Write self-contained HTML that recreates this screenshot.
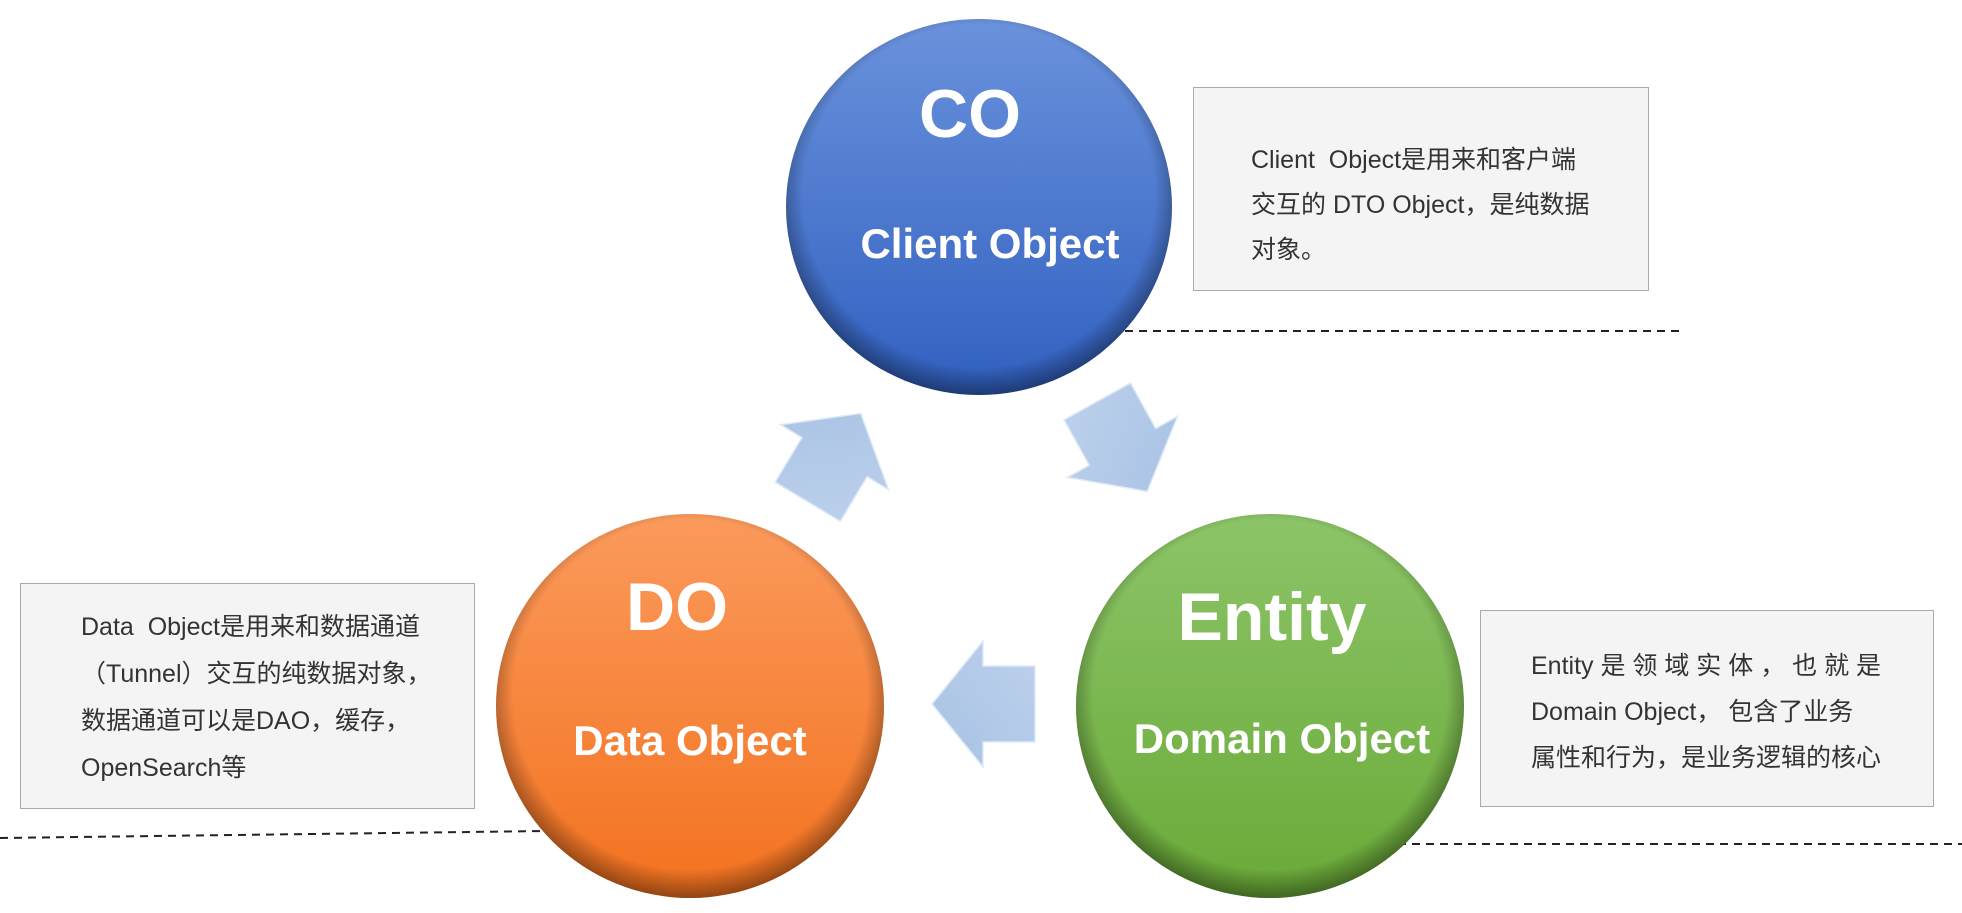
<!DOCTYPE html>
<html><head><meta charset="utf-8"><style>
html,body{margin:0;padding:0;background:#fff;}
body{width:1962px;height:913px;position:relative;overflow:hidden;font-family:"Liberation Sans","Noto Sans CJK SC",sans-serif;}
.box{position:absolute;background:#f4f4f4;border:1.5px solid #aaa;box-sizing:border-box;color:#333;font-size:25px;line-height:47px;}
</style></head><body>
<svg width="1962" height="913" style="position:absolute;left:0;top:0">
<defs>
<linearGradient id="lb" x1="0" y1="0" x2="0" y2="1"><stop offset="0" stop-color="#6a92dc"/><stop offset="1" stop-color="#3160c0"/></linearGradient>
<linearGradient id="lo" x1="0" y1="0" x2="0" y2="1"><stop offset="0" stop-color="#fb9a5c"/><stop offset="1" stop-color="#f3721f"/></linearGradient>
<linearGradient id="lg" x1="0" y1="0" x2="0" y2="1"><stop offset="0" stop-color="#8cc468"/><stop offset="1" stop-color="#6aaa38"/></linearGradient>
<radialGradient id="sh" cx="50%" cy="47%" r="53%"><stop offset="0.86" stop-color="#000" stop-opacity="0"/><stop offset="1" stop-color="#000" stop-opacity="0.4"/></radialGradient>
<linearGradient id="ar" x1="0" y1="0" x2="1" y2="1"><stop offset="0" stop-color="#a9c2e4"/><stop offset="1" stop-color="#bcd1ec"/></linearGradient>
</defs>
<line x1="1125" y1="331" x2="1680" y2="331" stroke="#222" stroke-width="2" stroke-dasharray="8,6"/>
<line x1="0" y1="838" x2="545" y2="831" stroke="#222" stroke-width="2" stroke-dasharray="8,6"/>
<line x1="1398" y1="844" x2="1962" y2="844" stroke="#222" stroke-width="2" stroke-dasharray="8,6"/>
<g><ellipse cx="979" cy="207" rx="193" ry="188" fill="url(#lb)"/><ellipse cx="979" cy="207" rx="193" ry="188" fill="url(#sh)"/></g>
<g><ellipse cx="690" cy="706" rx="194" ry="192" fill="url(#lo)"/><ellipse cx="690" cy="706" rx="194" ry="192" fill="url(#sh)"/></g>
<g><ellipse cx="1270" cy="706" rx="194" ry="192" fill="url(#lg)"/><ellipse cx="1270" cy="706" rx="194" ry="192" fill="url(#sh)"/></g>
<g fill="url(#ar)" stroke="#dfeaf7" stroke-width="1.5">
<polygon transform="translate(834,458) rotate(31)" points="0,-52 63,-1 38,-1 38,51 -38,51 -38,-1 -63,-1"/>
<polygon transform="translate(1122,446) rotate(151)" points="0,-52 63,-1 38,-1 38,51 -38,51 -38,-1 -63,-1"/>
<polygon transform="translate(984,704) rotate(-90)" points="0,-52 63,-1 38,-1 38,51 -38,51 -38,-1 -63,-1"/>
</g>
<g fill="#fff" font-family="Liberation Sans, sans-serif" font-weight="bold" text-anchor="middle">
<text x="970" y="137" font-size="68">CO</text>
<text x="990" y="258" font-size="42">Client Object</text>
<text x="677" y="630" font-size="68">DO</text>
<text x="690" y="755" font-size="42">Data Object</text>
<text x="1272" y="640" font-size="68">Entity</text>
<text x="1282" y="753" font-size="42">Domain Object</text>
</g>
</svg>
<div class="box" style="left:1193px;top:87px;width:456px;height:204px;padding:50px 0 0 57px;line-height:45px;">Client&nbsp; Object是用来和客户端<br>交互的 DTO Object，是纯数据<br>对象。</div>
<div class="box" style="left:20px;top:583px;width:455px;height:226px;padding:20px 0 0 60px;">Data&nbsp; Object是用来和数据通道<br>（Tunnel）交互的纯数据对象，<br>数据通道可以是DAO，缓存，<br>OpenSearch等</div>
<div class="box" style="left:1480px;top:610px;width:454px;height:197px;padding:32px 0 0 50px;line-height:46px;">Entity 是 领 域 实 体 ， 也 就 是<br>Domain Object， 包含了业务<br>属性和行为，是业务逻辑的核心</div>
</body></html>
